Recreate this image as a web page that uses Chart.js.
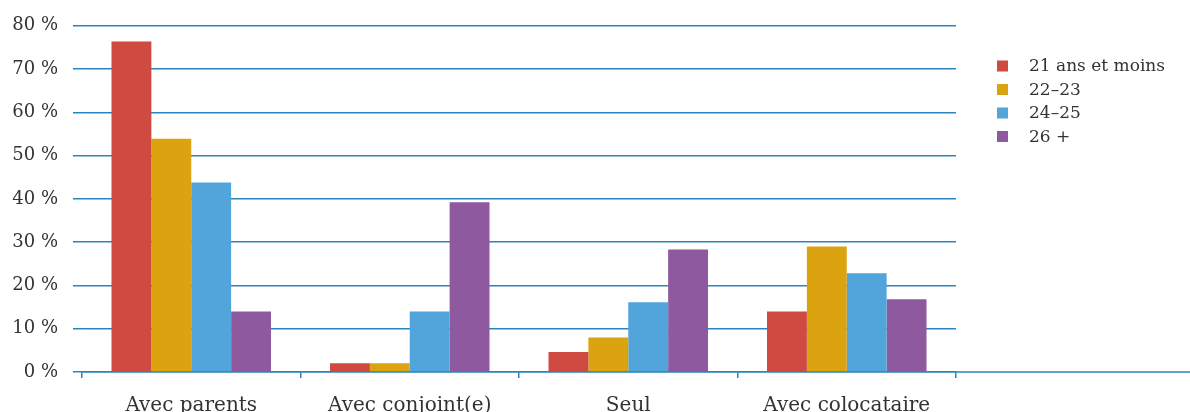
<!DOCTYPE html>
<html>
<head>
<meta charset="utf-8">
<script src="https://cdn.jsdelivr.net/npm/chart.js@4"></script>
<style>
  html, body { margin: 0; padding: 0; background: #fff; }
  #wrap { width: 1190px; height: 412px; }
</style>
</head>
<body>
<div id="wrap"><canvas id="chart" width="1190" height="412"></canvas></div>
<script>
const categories = ["Avec parents", "Avec conjoint(e)", "Seul", "Avec colocataire"];
const seriesNames = ["21 ans et moins", "22–23", "24–25", "26 +"];
const age21 = [76.4, 2, 4.6, 14];
const age2223 = [53.9, 2, 8, 29];
const age2425 = [43.8, 14, 16.1, 22.8];
const age26 = [14, 39.2, 28.3, 16.8];
const yTicks = [0, 10, 20, 30, 40, 50, 60, 70, 80];

const colors = ["#cf4a40", "#dba30f", "#51a5da", "#8f59a0"];
const lineBlue = "#2a85be";
const textColor = "#333333";
const serif = "'DejaVu Serif', serif";

// legend + x axis line drawn beside the plot
const sidePlugin = {
  id: "side",
  afterDraw(chart) {
    const ctx = chart.ctx;
    const area = chart.chartArea;
    const zeroY = chart.scales.y.getPixelForValue(0);
    ctx.save();
    ctx.strokeStyle = lineBlue;
    ctx.lineWidth = 1.5;
    ctx.beginPath();
    ctx.moveTo(area.right, zeroY);
    ctx.lineTo(chart.width, zeroY);
    ctx.stroke();

    ctx.font = "17px " + serif;
    ctx.textBaseline = "middle";
    chart.data.datasets.forEach((ds, i) => {
      const y = 66 + i * 23.5;
      ctx.fillStyle = ds.backgroundColor;
      ctx.fillRect(997, y - 5.5, 11, 11);
      ctx.fillStyle = textColor;
      ctx.fillText(ds.label, 1029, y + 1);
    });
    ctx.restore();
  }
};

new Chart(document.getElementById("chart"), {
  type: "bar",
  data: {
    labels: categories,
    datasets: [age21, age2223, age2425, age26].map((d, i) => ({
      label: seriesNames[i],
      data: d,
      backgroundColor: colors[i],
      borderWidth: 0,
      categoryPercentage: 0.73,
      barPercentage: 1.0,
    })),
  },
  options: {
    responsive: false,
    animation: false,
    layout: { padding: { top: 24, right: 234, left: 0, bottom: 0 } },
    plugins: {
      legend: { display: false },
      tooltip: { enabled: false },
    },
    scales: {
      x: {
        afterFit: (s) => { s.height = 40; },
        grid: {
          offset: true,
          drawOnChartArea: false,
          drawTicks: true,
          tickLength: 6,
          color: lineBlue,
          lineWidth: 1.5,
        },
        border: { display: true, color: lineBlue, width: 1.5 },
        ticks: {
          color: textColor,
          font: { family: serif, size: 20 },
          padding: 16,
          maxRotation: 0,
        },
      },
      y: {
        min: 0,
        max: 80,
        afterFit: (s) => { s.width = 82; },
        afterBuildTicks: (s) => { s.ticks = yTicks.map((v) => ({ value: v })); },
        grid: {
          color: lineBlue,
          lineWidth: 1.5,
          tickLength: 9,
        },
        border: { display: false },
        ticks: {
          color: textColor,
          font: { family: serif, size: 18 },
          padding: 15,
          callback: (v) => v + " %",
        },
      },
    },
  },
  plugins: [sidePlugin],
});
</script>
</body>
</html>
